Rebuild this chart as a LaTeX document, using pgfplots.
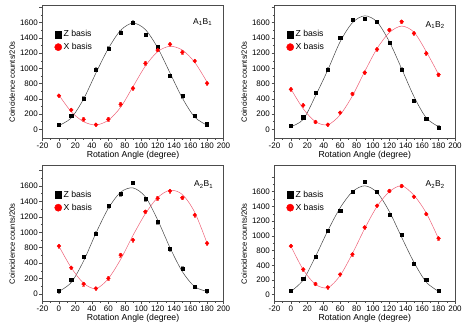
\documentclass[border=0pt]{standalone}
\usepackage{fontspec}
\setmainfont{Liberation Sans}
\usepackage{pgfplots}
\usepackage{pgfplotstable}
\pgfplotsset{compat=1.18}

\definecolor{fitred}{RGB}{238,96,118}
\definecolor{fitgray}{RGB}{70,70,70}

% ang: rotation angle; zd/xd: measured points; zf/xf: points on the fitted curves
\pgfplotstableread{
ang zd zf xd xf
0 57 50 442 450
15 175 150 254 230
30 407 400 131 100
45 787 740 61 57
60 1063 1060 131 120
75 1273 1300 328 290
90 1404 1395 538 560
105 1238 1310 866 830
120 1085 1070 1041 1020
135 704 740 1116 1090
150 437 410 1011 1040
165 175 160 897 880
180 66 55 604 620
}\tabAoneBone

\pgfplotstableread{
ang zd zf xd xf
0 48 35 525 530
15 158 130 315 270
30 481 440 96 100
45 787 780 61 60
60 1203 1150 219 190
75 1435 1400 464 440
90 1448 1490 744 760
105 1413 1410 1050 1060
120 1138 1150 1304 1270
135 787 795 1413 1355
150 376 430 1260 1275
165 140 150 997 1020
180 26 35 717 720
}\tabAoneBtwo

\pgfplotstableread{
ang zd zf xd xf
0 39 35 622 620
15 181 150 341 340
30 484 430 130 140
45 786 790 73 70
60 1140 1110 203 200
75 1296 1320 505 450
90 1443 1375 700 760
105 1231 1260 1067 1040
120 933 960 1240 1250
135 583 600 1335 1345
150 333 290 1248 1290
165 95 95 1024 1060
180 39 35 657 660
}\tabAtwoBone

\pgfplotstableread{
ang zd zf xd xf
0 50 45 661 660
15 222 200 344 340
30 516 520 145 140
45 870 870 100 95
60 1137 1180 276 260
75 1395 1400 548 560
90 1536 1480 915 900
105 1400 1390 1210 1200
120 1083 1130 1409 1400
135 811 780 1477 1480
150 426 440 1332 1350
165 208 170 1096 1110
180 50 45 766 760
}\tabAtwoBtwo

\pgfplotsset{
  panel/.style={
    scale only axis,
    anchor=south west,
    xmin=-20, xmax=200,
    xtick={-20,0,...,200},
    ytick={0,200,...,1600},
    yticklabels={0,200,400,800,1000,1200,1400,1600,{}},
    minor x tick num=1, minor y tick num=1,
    tick pos=left, tick align=outside,
    major tick length=3pt, minor tick length=1.6pt,
    axis line style={black!70, line width=0.5pt},
    every tick/.style={black!70, line width=0.5pt},
    /pgf/number format/assume math mode=true,
    ticklabel style={font=\fontsize{8}{9}\selectfont, inner sep=1.5pt},
    xlabel style={font=\fontsize{8.7}{10}\selectfont, inner sep=1pt},
    ylabel style={font=\fontsize{7.6}{9}\selectfont, at={(ticklabel cs:0.42)}},
    xlabel={Rotation Angle (degree)},
    ylabel={Coincidence counts/20s},
    legend style={draw=none, fill=none, inner sep=0pt,
      at={(rel axis cs:0.065,0.82)}, anchor=north west,
      font=\fontsize{8.7}{10}\selectfont, row sep=1.8pt,
      nodes={inner sep=1.5pt}},
    legend cell align=left,
  },
  zpts/.style={only marks, mark=square*, mark size=1.6pt, black, forget plot,
    error bars/.cd, y dir=both, y fixed=22,
    error bar style={black!45, line width=0.4pt},
    error mark options={rotate=90, mark size=1.2pt, black!45}},
  xpts/.style={only marks, mark=*, mark size=1.9pt, red, forget plot,
    error bars/.cd, y dir=both, y fixed=22,
    error bar style={red!55, line width=0.4pt},
    error mark options={rotate=90, mark size=1.2pt, red!55}},
  zfit/.style={fitgray, line width=0.5pt, smooth, forget plot},
  xfit/.style={fitred, line width=0.5pt, smooth, forget plot},
}

\newcommand{\legendentries}{%
  \addlegendimage{legend image code/.code={\fill[black] (0pt,-3.4pt) rectangle (6.8pt,3.4pt);}}
  \addlegendentry{Z basis}
  \addlegendimage{legend image code/.code={\fill[red] (3.4pt,0pt) circle (3.6pt);}}
  \addlegendentry{X basis}
}

\begin{document}
\begin{tikzpicture}
\useasboundingbox (0,0) rectangle (464pt,327pt);

\begin{axis}[panel, at={(42.5pt,189pt)}, width=181pt, height=133pt,
    ymin=-114, ymax=1632]
  \legendentries
  \addplot[zfit] table[x=ang, y=zf] {\tabAoneBone};
  \addplot[xfit] table[x=ang, y=xf] {\tabAoneBone};
  \addplot[zpts] table[x=ang, y=zd] {\tabAoneBone};
  \addplot[xpts] table[x=ang, y=xd] {\tabAoneBone};
  \node[font=\fontsize{8.5}{10}\selectfont] at (rel axis cs:0.885,0.87) {A\textsubscript{1}B\textsubscript{1}};
\end{axis}

\begin{axis}[panel, at={(274.5pt,189pt)}, width=180.5pt, height=133pt,
    ymin=-114, ymax=1632]
  \legendentries
  \addplot[zfit] table[x=ang, y=zf] {\tabAoneBtwo};
  \addplot[xfit] table[x=ang, y=xf] {\tabAoneBtwo};
  \addplot[zpts] table[x=ang, y=zd] {\tabAoneBtwo};
  \addplot[xpts] table[x=ang, y=xd] {\tabAoneBtwo};
  \node[font=\fontsize{8.5}{10}\selectfont] at (rel axis cs:0.89,0.85) {A\textsubscript{1}B\textsubscript{2}};
\end{axis}

\begin{axis}[panel, at={(42.5pt,26pt)}, width=181pt, height=136pt,
    ymin=-90, ymax=1672]
  \legendentries
  \addplot[zfit] table[x=ang, y=zf] {\tabAtwoBone};
  \addplot[xfit] table[x=ang, y=xf] {\tabAtwoBone};
  \addplot[zpts] table[x=ang, y=zd] {\tabAtwoBone};
  \addplot[xpts] table[x=ang, y=xd] {\tabAtwoBone};
  \node[font=\fontsize{8.5}{10}\selectfont] at (rel axis cs:0.89,0.855) {A\textsubscript{2}B\textsubscript{1}};
\end{axis}

\begin{axis}[panel, at={(274.5pt,26pt)}, width=180.5pt, height=136pt,
    ymin=-86, ymax=1763]
  \legendentries
  \addplot[zfit] table[x=ang, y=zf] {\tabAtwoBtwo};
  \addplot[xfit] table[x=ang, y=xf] {\tabAtwoBtwo};
  \addplot[zpts] table[x=ang, y=zd] {\tabAtwoBtwo};
  \addplot[xpts] table[x=ang, y=xd] {\tabAtwoBtwo};
  \node[font=\fontsize{8.5}{10}\selectfont] at (rel axis cs:0.89,0.855) {A\textsubscript{2}B\textsubscript{2}};
\end{axis}
\end{tikzpicture}
\end{document}
